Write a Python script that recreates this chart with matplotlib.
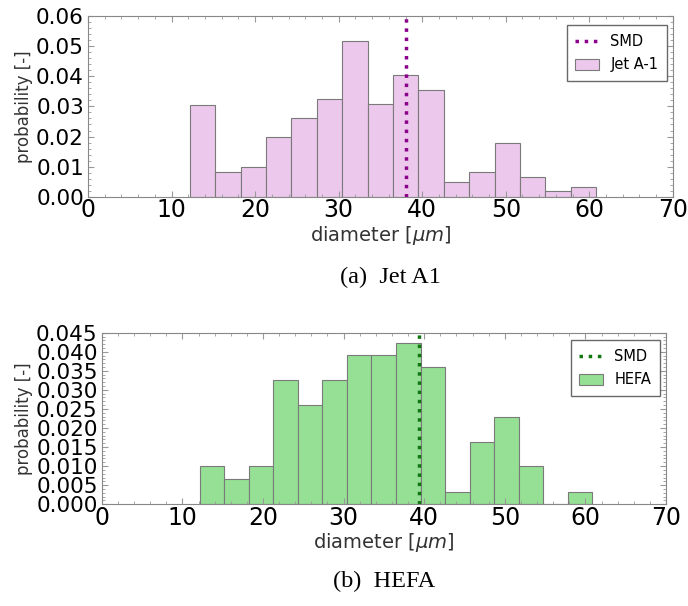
import numpy as np
import matplotlib.pyplot as plt

# bin edges shared by both histograms (diameter in um)
bin_edges = np.linspace(12.17, 60.83, 17)

# Jet A-1 probabilities per bin
jet_prob = [0.0306, 0.0081, 0.0098, 0.0197, 0.0262, 0.0323, 0.0516, 0.0307,
            0.0403, 0.0355, 0.0050, 0.0081, 0.0179, 0.0066, 0.0019, 0.0034]
jet_smd = 38.0

# HEFA probabilities per bin
hefa_prob = [0.0099, 0.0065, 0.0099, 0.0326, 0.0261, 0.0326, 0.0391, 0.0391,
             0.0424, 0.0359, 0.0032, 0.0163, 0.0228, 0.0099, 0.0, 0.0032]
hefa_smd = 39.3

fig = plt.figure(figsize=(6.88, 6.06), dpi=100)

def draw(ax, probs, smd, face, line_col, label, yticks, yfmt, leg_anchor):
    widths = np.diff(bin_edges)
    ax.bar(bin_edges[:-1], probs, width=widths, align='edge',
           color=face, edgecolor='#7a7a7a', linewidth=0.8, label=label)
    ax.axvline(smd, color=line_col, linestyle=':', linewidth=2.5, label='SMD')
    ax.set_xlim(0, 70)
    ax.set_ylim(yticks[0], yticks[-1])
    ax.set_xticks(range(0, 71, 10))
    ax.set_yticks(yticks)
    ax.set_yticklabels([yfmt % v for v in yticks])
    ax.minorticks_on()
    ax.tick_params(which='both', direction='in', top=True, right=True,
                   color='#999999')
    ax.tick_params(which='major', length=4)
    ax.tick_params(which='minor', length=2)
    ax.tick_params(axis='x', which='major', labelsize=17, pad=1)
    ax.tick_params(axis='y', which='major', labelsize=15.5, pad=3)
    for s in ax.spines.values():
        s.set_color('#888888')
    ax.set_xlabel(r'diameter [$\mu m$]', fontsize=14, color='#333333', labelpad=1)
    ax.set_ylabel('probability [-]', fontsize=12, color='#333333', labelpad=2)
    leg = ax.legend(loc='upper right', bbox_to_anchor=leg_anchor,
                    bbox_transform=fig.transFigure, borderaxespad=0,
                    fontsize=10.5, fancybox=False, edgecolor='#444444',
                    handlelength=1.6, borderpad=0.6, labelspacing=0.6)
    leg.get_frame().set_linewidth(1.0)

ax1 = fig.add_axes([0.128, 0.675, 0.850, 0.299])
draw(ax1, jet_prob, jet_smd, '#ecc9ec', '#8b008b', 'Jet A-1',
     np.arange(0, 0.0601, 0.01), '%.2f', (667 / 688, 1 - 25 / 606))

ax2 = fig.add_axes([0.148, 0.168, 0.820, 0.283])
draw(ax2, hefa_prob, hefa_smd, '#95e095', '#117711', 'HEFA',
     np.arange(0, 0.04501, 0.005), '%.3f', (660 / 688, 1 - 340 / 606))

fig.text(0.568, 1 - 277 / 606, '(a)  Jet A1', family='Liberation Serif',
         fontsize=17.5, ha='center', va='center')
fig.text(0.558, 1 - 581 / 606, '(b)  HEFA', family='Liberation Serif',
         fontsize=17.5, ha='center', va='center')

plt.savefig('out.png', dpi=100)
